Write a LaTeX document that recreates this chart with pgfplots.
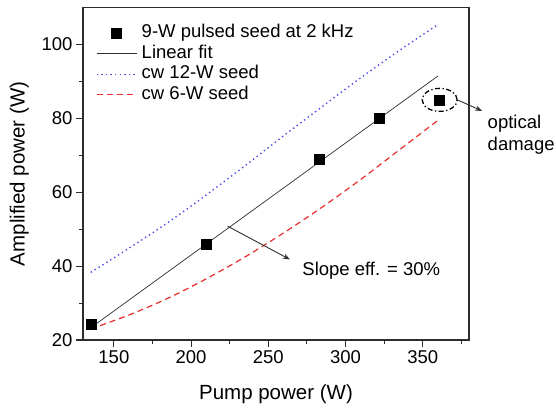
\documentclass[border=0pt]{standalone}
\usepackage{fontspec}
\setmainfont{Liberation Sans}
\usepackage{pgfplots}
\pgfplotsset{compat=1.18}
\usetikzlibrary{arrows.meta}

\definecolor{cwblue}{RGB}{80,80,230}
\definecolor{cwred}{RGB}{232,45,45}
\definecolor{axgray}{RGB}{45,45,45}

\begin{document}
\begin{tikzpicture}[font=\fontsize{18.5}{22}\selectfont]
\begin{axis}[
    scale only axis,
    width=386pt, height=332.5pt,
    xmin=130, xmax=380,
    ymin=20, ymax=110,
    xtick={150,200,...,350},
    minor xtick={175,225,...,375},
    ytick={20,40,...,100},
    minor ytick={30,50,...,90},
    tick align=outside,
    xtick pos=bottom, ytick pos=left,
    major tick length=7pt, minor tick length=4pt,
    axis line style={axgray, line width=1.1pt},
    every tick/.style={axgray, line width=1.1pt},
    /pgf/number format/assume math mode=true,
    xlabel={Pump power (W)},
    ylabel={Amplified power (W)},
    label style={font=\fontsize{20.5}{24}\selectfont},
    xlabel style={at={(axis description cs:0.5,-0.162)}, anchor=center},
    ylabel style={at={(axis description cs:-0.165,0.5)}, anchor=center},
    clip=false,
    legend cell align=left,
    legend style={at={(axis description cs:0.025,0.96)}, anchor=north west,
        draw=none, fill=none, row sep=0pt,
        nodes={inner sep=1.5pt, text height=13pt, text depth=4.5pt},
        /tikz/every odd column/.append style={column sep=3pt}},
    legend image code/.code={\draw[mark repeat=2,mark phase=2,#1]
        plot coordinates {(0pt,0pt)(20pt,0pt)(40pt,0pt)};},
]

% legend entry for the measured points (plotted last, on top)
\addlegendimage{only marks, mark=square*, mark size=5pt, black}
\addlegendentry{9-W pulsed seed at 2 kHz}

% Linear fit
\addplot[color=axgray, line width=0.7pt] coordinates {
    (135,23.3) (360,91.5)
};
\addlegendentry{Linear fit}

% cw 12-W seed
\addplot[color=cwblue, line width=1.4pt, dash pattern=on 1.4pt off 3.2pt, smooth] coordinates {
    (135,38.3) (160,44.9) (185,51.8) (210,59.3) (235,67.2) (260,75.3)
    (285,83.2) (310,91) (335,98.4) (360,105.4)
};
\addlegendentry{cw 12-W seed}

% cw 6-W seed
\addplot[color=cwred, line width=1.2pt, dash pattern=on 6pt off 4pt, smooth] coordinates {
    (135,23) (160,26.8) (185,31.3) (210,36.6) (235,42.5) (260,49)
    (285,56) (310,63.5) (335,71.5) (360,79.5)
};
\addlegendentry{cw 6-W seed}

% 9-W pulsed seed at 2 kHz
\addplot[only marks, mark=square*, mark size=5pt, black, forget plot] coordinates {
    (135,24.4) (210,46) (283,69) (322,80) (361,85)
};

% annotations
\draw[axgray, line width=0.9pt, -{Stealth[length=7pt]}]
    (axis cs:223.7,50.8) -- (axis cs:264,41.8);
\node[anchor=west, inner sep=0pt] at (axis cs:272,38.7) {Slope eff. = 30\%};

\draw[black, line width=1.3pt, dash pattern=on 5pt off 2.5pt on 1.3pt off 2.5pt]
    (axis cs:361,85) ellipse [x radius=17.5pt, y radius=11.5pt];
\draw[axgray, line width=0.9pt, -{Stealth[length=7pt]}]
    (axis cs:373,84.9) -- (axis cs:388.5,82);
\node[anchor=west, align=left, inner sep=0pt] at (axis cs:392,75.7) {optical\\damage};
\end{axis}
\pgfresetboundingbox
\path[use as bounding box] (-83pt,-67pt) rectangle (473pt,340pt);
\end{tikzpicture}
\end{document}
